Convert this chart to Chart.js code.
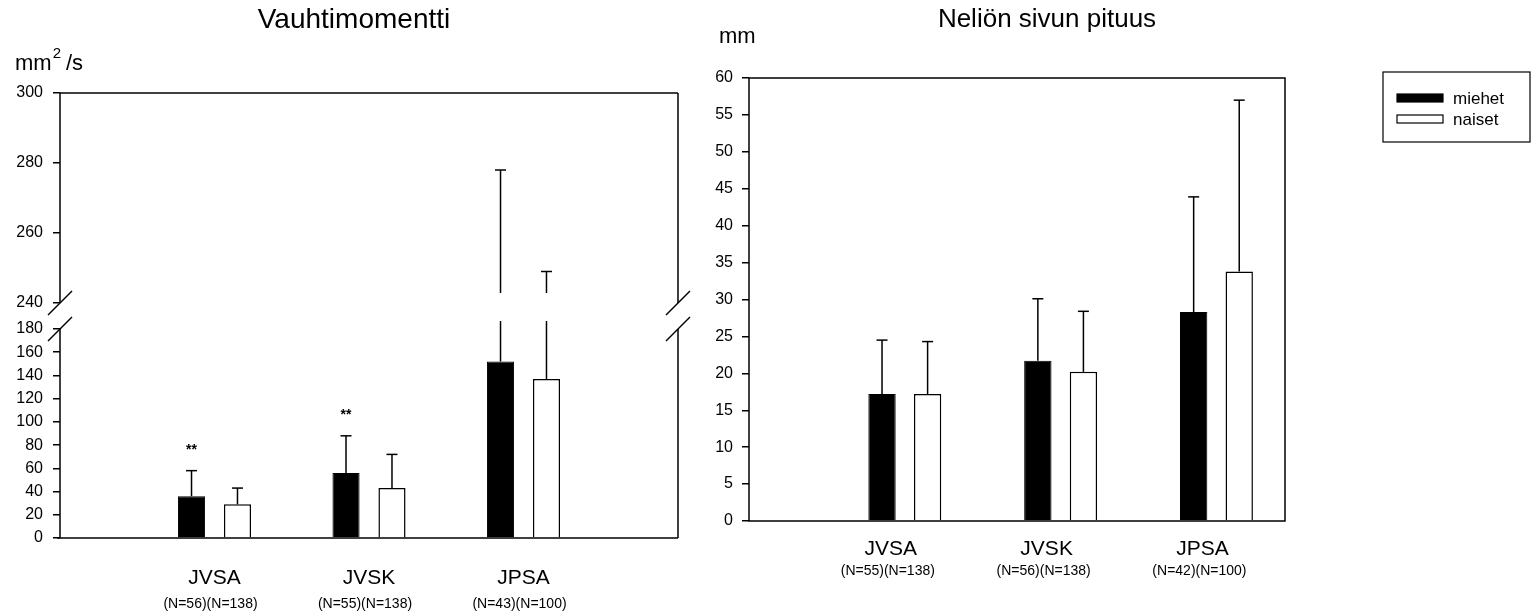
<!DOCTYPE html>
<html>
<head>
<meta charset="utf-8">
<script src="https://cdn.jsdelivr.net/npm/chart.js@4.4.0/dist/chart.umd.min.js"></script>
<style>
    html, body { margin: 0; padding: 0; background: #fff; }
    #wrap { position: relative; width: 1540px; height: 616px; overflow: hidden; }
    canvas { position: absolute; top: 0; }
    #momentChart { left: 0; }
    #sideChart { left: 700px; }
</style>
</head>
<body>
<div id="wrap">
    <canvas id="momentChart" width="700" height="616"></canvas>
    <canvas id="sideChart" width="840" height="616"></canvas>
</div>
<script>
// --- DATA ---
const categories = ['JVSA', 'JVSK', 'JPSA'];
const catPos = [1, 2, 3];
const seriesNames = ['miehet', 'naiset'];

// Vauhtimomentti, mm²/s (mean and upward SD)
const momentTicks = [0, 20, 40, 60, 80, 100, 120, 140, 160, 180, 240, 260, 280, 300];
const momentMen = [36, 56, 152];
const momentMenSD = [22, 32, 126];
const momentWomen = [29, 43, 137];
const momentWomenSD = [14, 29, 112];
const momentStars = ['**', '**', ''];
const momentN = ['(N=56)(N=138)', '(N=55)(N=138)', '(N=43)(N=100)'];

// Neliön sivun pituus, mm
const sideTicks = [0, 5, 10, 15, 20, 25, 30, 35, 40, 45, 50, 55, 60];
const sideMen = [17.2, 21.7, 28.3];
const sideMenSD = [7.3, 8.4, 15.6];
const sideWomen = [17.2, 20.2, 33.8];
const sideWomenSD = [7.1, 8.2, 23.2];
const sideN = ['(N=55)(N=138)', '(N=56)(N=138)', '(N=42)(N=100)'];

const FONT = "'Liberation Sans', Arial, sans-serif";
Chart.defaults.font.family = FONT;
Chart.defaults.color = '#000';

// --- BROKEN Y SCALE (0-180 below the break, 240-300 above) ---
const BREAK_LO = 180, BREAK_HI = 240;
const LO_FRAC = 209 / 445, HI_FRAC = 235 / 445;

class BrokenScale extends Chart.LinearScale {
    toDecimal(v) {
        if (v <= BREAK_LO) return v / BREAK_LO * LO_FRAC;
        if (v >= BREAK_HI) return HI_FRAC + (v - BREAK_HI) / (this.max - BREAK_HI) * (1 - HI_FRAC);
        return LO_FRAC + (v - BREAK_LO) / (BREAK_HI - BREAK_LO) * (HI_FRAC - LO_FRAC);
    }
    getPixelForValue(v) {
        if (v === null || v === undefined) return NaN;
        return this.getPixelForDecimal(this.toDecimal(v));
    }
    getValueForPixel(p) {
        const d = this.getDecimalForPixel(p);
        if (d <= LO_FRAC) return d / LO_FRAC * BREAK_LO;
        if (d >= HI_FRAC) return BREAK_HI + (d - HI_FRAC) / (1 - HI_FRAC) * (this.max - BREAK_HI);
        return BREAK_LO + (d - LO_FRAC) / (HI_FRAC - LO_FRAC) * (BREAK_HI - BREAK_LO);
    }
}
BrokenScale.id = 'broken';
BrokenScale.defaults = Chart.LinearScale.defaults;
Chart.register(BrokenScale);

// --- HELPERS ---
function barSets(men, menSD, women, womenSD, stars, catPct, barPct) {
    return [
        {
            label: seriesNames[0], xAxisID: 'x', yAxisID: 'y',
            data: catPos.map((x, i) => ({ x, y: men[i] })), sd: menSD, stars,
            backgroundColor: '#000', borderColor: '#000', borderWidth: 1,
            categoryPercentage: catPct, barPercentage: barPct
        },
        {
            label: seriesNames[1], xAxisID: 'x', yAxisID: 'y',
            data: catPos.map((x, i) => ({ x, y: women[i] })), sd: womenSD,
            backgroundColor: '#fff', borderColor: '#000', borderWidth: 1.5,
            categoryPercentage: catPct, barPercentage: barPct
        }
    ];
}

function xAxes(max, mainH, mainPad, mainOff, nLabels, nH, nPad, nOff) {
    const base = {
        type: 'linear', min: 0, max, offset: false, position: 'bottom',
        afterBuildTicks: s => { s.ticks = catPos.map(v => ({ value: v })); },
        grid: { display: false, drawTicks: false, offset: false },
        border: { display: false }
    };
    return {
        x: {
            ...base, weight: 0,
            afterFit: s => { s.height = mainH; },
            ticks: { autoSkip: false, maxRotation: 0, padding: mainPad, labelOffset: mainOff, font: { size: 21 }, color: '#000',
                     callback: v => categories[catPos.indexOf(v)] }
        },
        xN: {
            ...base, weight: 1,
            afterFit: s => { s.height = nH; },
            ticks: { autoSkip: false, maxRotation: 0, padding: nPad, labelOffset: nOff, font: { size: 14 }, color: '#000',
                     callback: v => nLabels[catPos.indexOf(v)] }
        }
    };
}

function line(ctx, x1, y1, x2, y2) {
    ctx.beginPath(); ctx.moveTo(x1, y1); ctx.lineTo(x2, y2); ctx.stroke();
}

// error bars (upward only) + significance stars
const errorBars = {
    id: 'errorBars',
    afterDatasetsDraw(chart) {
        const { ctx } = chart;
        const y = chart.scales.y;
        const broken = y.type === 'broken';
        ctx.save();
        ctx.strokeStyle = '#000';
        ctx.lineWidth = 1.5;
        chart.data.datasets.forEach((ds, di) => {
            chart.getDatasetMeta(di).data.forEach((bar, i) => {
                const top = y.getPixelForValue(ds.data[i].y + ds.sd[i]);
                if (broken) {
                    const gTop = y.getPixelForValue(BREAK_HI) - 10;
                    const gBot = y.getPixelForValue(BREAK_LO) - 8;
                    if (top < gTop && bar.y > gBot) {
                        line(ctx, bar.x, top, bar.x, gTop);
                        line(ctx, bar.x, gBot, bar.x, bar.y);
                    } else line(ctx, bar.x, top, bar.x, bar.y);
                } else line(ctx, bar.x, top, bar.x, bar.y);
                line(ctx, bar.x - 5.5, top, bar.x + 5.5, top);
                if (ds.stars && ds.stars[i]) {
                    ctx.fillStyle = '#000';
                    ctx.font = `bold 14px ${FONT}`;
                    ctx.textAlign = 'center';
                    ctx.textBaseline = 'middle';
                    ctx.fillText(ds.stars[i], bar.x, top - 21);
                }
            });
        });
        ctx.restore();
    }
};

// --- LEFT: Vauhtimomentti ---
new Chart(document.getElementById('momentChart'), {
    type: 'bar',
    data: { datasets: barSets(momentMen, momentMenSD, momentWomen, momentWomenSD, momentStars, 0.595, 0.59) },
    options: {
        responsive: false, animation: false,
        layout: { padding: { top: 93, right: 22, left: 0, bottom: 0 } },
        plugins: { legend: { display: false }, tooltip: { enabled: false } },
        scales: {
            ...xAxes(4, 56, 28, 0, momentN, 22, 2, -4),
            y: {
                type: 'broken', min: 0, max: 300,
                afterFit: s => { s.width = 60; },
                afterBuildTicks: s => { s.ticks = momentTicks.map(v => ({ value: v })); },
                grid: { display: true, drawOnChartArea: false, drawTicks: true, tickLength: 7, color: '#000', lineWidth: 1.5 },
                border: { display: false },
                ticks: { autoSkip: false, padding: 10, font: { size: 16 }, color: '#000' }
            }
        }
    },
    plugins: [errorBars, {
        id: 'momentDeco',
        afterDraw(chart) {
            const { ctx } = chart;
            const { left, right, top, bottom } = chart.chartArea;
            const y = chart.scales.y;
            const yHi = y.getPixelForValue(BREAK_HI), yLo = y.getPixelForValue(BREAK_LO);
            ctx.save();
            ctx.strokeStyle = '#000';
            ctx.lineWidth = 1.5;
            line(ctx, left, top, right, top);
            line(ctx, left - 3, bottom, right, bottom);
            [left, right].forEach(x => {
                line(ctx, x, top, x, yHi);
                line(ctx, x, yLo, x, bottom);
                line(ctx, x - 12, yHi + 12, x + 12, yHi - 12);
                line(ctx, x - 12, yLo + 12, x + 12, yLo - 12);
            });
            ctx.fillStyle = '#000';
            ctx.textAlign = 'center';
            ctx.textBaseline = 'middle';
            ctx.font = `28px ${FONT}`;
            ctx.fillText('Vauhtimomentti', 354, 20);
            ctx.textAlign = 'left';
            ctx.textBaseline = 'alphabetic';
            ctx.font = `22px ${FONT}`;
            ctx.fillText('mm', 15, 70);
            let x = 15 + ctx.measureText('mm').width + 1;
            ctx.font = `15px ${FONT}`;
            ctx.fillText('2', x, 58);
            x += ctx.measureText('2').width + 5;
            ctx.font = `22px ${FONT}`;
            ctx.fillText('/s', x, 70);
            ctx.restore();
        }
    }]
});

// --- RIGHT: Neliön sivun pituus ---
new Chart(document.getElementById('sideChart'), {
    type: 'bar',
    data: { datasets: barSets(sideMen, sideMenSD, sideWomen, sideWomenSD, null, 0.585, 0.6) },
    options: {
        responsive: false, animation: false,
        layout: { padding: { top: 78, right: 255, left: 0, bottom: 0 } },
        plugins: { legend: { display: false }, tooltip: { enabled: false } },
        scales: {
            ...xAxes(3.44, 36, 16, -14, sideN, 59, 6, -17),
            y: {
                type: 'linear', min: 0, max: 60,
                afterFit: s => { s.width = 49; },
                afterBuildTicks: s => { s.ticks = sideTicks.map(v => ({ value: v })); },
                grid: { display: true, drawOnChartArea: false, drawTicks: true, tickLength: 7, color: '#000', lineWidth: 1.5 },
                border: { display: false },
                ticks: { autoSkip: false, padding: 9, font: { size: 16 }, color: '#000' }
            }
        }
    },
    plugins: [errorBars, {
        id: 'sideDeco',
        afterDraw(chart) {
            const { ctx } = chart;
            const { left, right, top, bottom } = chart.chartArea;
            ctx.save();
            ctx.strokeStyle = '#000';
            ctx.lineWidth = 1.5;
            ctx.strokeRect(left, top, right - left, bottom - top);
            ctx.fillStyle = '#000';
            ctx.textAlign = 'center';
            ctx.textBaseline = 'middle';
            ctx.font = `26px ${FONT}`;
            ctx.fillText('Neliön sivun pituus', 347, 20);
            ctx.textAlign = 'left';
            ctx.textBaseline = 'alphabetic';
            ctx.font = `22px ${FONT}`;
            ctx.fillText('mm', 19, 43);
            // legend
            ctx.lineWidth = 1.2;
            ctx.strokeRect(683, 72, 147, 70);
            ctx.font = `17px ${FONT}`;
            ctx.textBaseline = 'middle';
            chart.data.datasets.forEach((ds, i) => {
                const yy = 94 + i * 21;
                ctx.fillStyle = ds.backgroundColor;
                ctx.fillRect(697, yy, 46, 8);
                ctx.strokeRect(697, yy, 46, 8);
                ctx.fillStyle = '#000';
                ctx.fillText(ds.label, 753, yy + 5);
            });
            ctx.restore();
        }
    }]
});
</script>
</body>
</html>
